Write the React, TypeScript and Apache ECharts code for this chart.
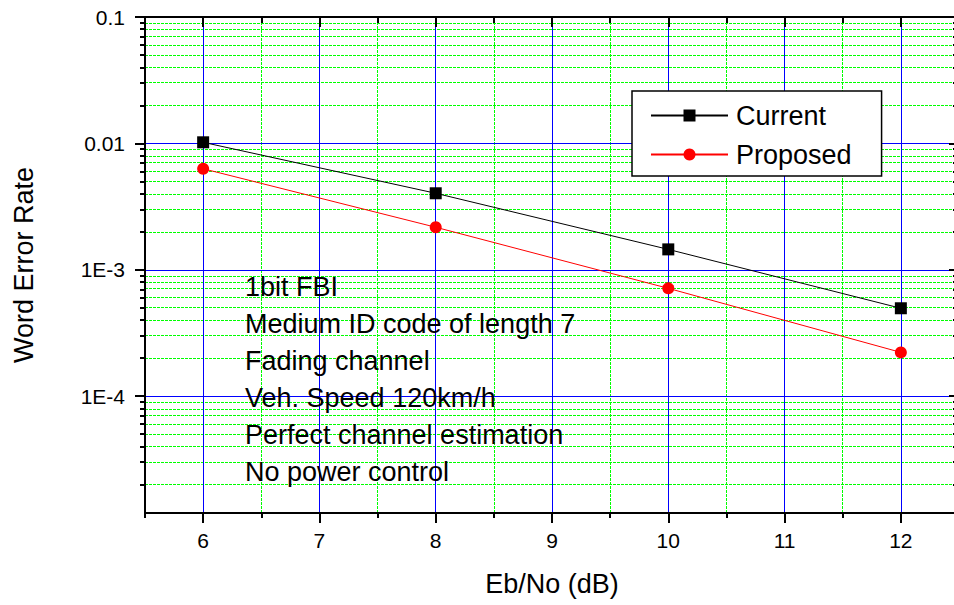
import React, { useEffect, useRef } from 'react';
import * as echarts from 'echarts';

const ebNo = [6, 8, 10, 12];
const currentWER = [0.0102, 0.00403, 0.00145, 0.000496];
const proposedWER = [0.0063, 0.00217, 0.000713, 0.000222];
const seriesNames = ['Current', 'Proposed'];

const xMajorTicks = [6, 7, 8, 9, 10, 11, 12];
const xMinorTicks = [5.5, 6.5, 7.5, 8.5, 9.5, 10.5, 11.5, 12.5];
const yMajorTicks = [1e-4, 1e-3, 1e-2, 1e-1];
const yMajorLabels = ['1E-4', '1E-3', '0.01', '0.1'];
const yMinorTicks = [
  2e-5, 3e-5, 4e-5, 5e-5, 6e-5, 7e-5, 8e-5, 9e-5,
  2e-4, 3e-4, 4e-4, 5e-4, 6e-4, 7e-4, 8e-4, 9e-4,
  2e-3, 3e-3, 4e-3, 5e-3, 6e-3, 7e-3, 8e-3, 9e-3,
  2e-2, 3e-2, 4e-2, 5e-2, 6e-2, 7e-2, 8e-2, 9e-2,
];
const notes = [
  '1bit FBI',
  'Medium ID code of length 7',
  'Fading channel',
  'Veh. Speed 120km/h',
  'Perfect channel estimation',
  'No power control',
];
const xTitle = 'Eb/No (dB)';
const yTitle = 'Word Error Rate';
const X_MIN = 5.5;
const X_MAX = 12.5;
const Y_MIN = 1.19e-5;
const Y_MAX = 0.1;

const FONT = '"Liberation Sans", Arial, Helvetica, sans-serif';
const BLUE = '#0000ff';
const GREEN = '#00ff00';

export default function App() {
  const ref = useRef<HTMLDivElement>(null);

  useEffect(() => {
    if (!ref.current) return;
    const chart = echarts.init(ref.current, undefined, { renderer: 'svg' });
    const lg = (v: number) => Math.log10(v);
    const yMin = lg(Y_MIN);
    const yMax = lg(Y_MAX);
    const yMajor = yMajorTicks.map(lg);
    const yMinor = yMinorTicks.map(lg);
    const labelFor = (v: number) => {
      let best = 0;
      let d = Infinity;
      yMajor.forEach((m, i) => {
        if (Math.abs(m - v) < d) {
          d = Math.abs(m - v);
          best = i;
        }
      });
      return yMajorLabels[best];
    };

    const baseX = {
      type: 'value',
      min: X_MIN,
      max: X_MAX,
      axisLine: { show: false, onZero: false },
      axisLabel: { show: false },
      splitLine: { show: false },
    };
    const baseY = {
      type: 'value',
      min: yMin,
      max: yMax,
      axisLine: { show: false, onZero: false },
      axisLabel: { show: false },
      splitLine: { show: false },
    };

    const gridSeries = (name: string, xs: number[], ys: number[], color: string, type: any, z: number) => ({
      name,
      type: 'line',
      xAxisIndex: 0,
      yAxisIndex: 0,
      data: [],
      silent: true,
      z,
      markLine: {
        silent: true,
        symbol: ['none', 'none'],
        label: { show: false },
        lineStyle: { color, width: 1, type },
        emphasis: { disabled: true },
        data: [
          ...xs.filter((v) => v > X_MIN && v < X_MAX).map((v) => ({ xAxis: v })),
          ...ys.filter((v) => v > yMin && v < yMax).map((v) => ({ yAxis: v })),
        ],
      },
    });

    const option: any = {
      animation: false,
      backgroundColor: '#ffffff',
      textStyle: { fontFamily: FONT },
      grid: {
        left: 145,
        top: 17,
        right: -5,
        bottom: 92,
        containLabel: false,
        outerBoundsMode: 'none',
      },
      legend: {
        orient: 'vertical',
        left: 632,
        top: 91,
        padding: [11, 30, 8, 18],
        itemGap: 12,
        itemWidth: 77,
        itemHeight: 15,
        backgroundColor: '#ffffff',
        borderColor: '#000000',
        borderWidth: 1.5,
        borderRadius: 0,
        textStyle: { fontSize: 27, color: '#000', fontFamily: FONT, padding: [0, 0, 0, 3] },
        data: seriesNames,
        z: 20,
      },
      xAxis: [
        {
          ...baseX,
          position: 'bottom',
          name: xTitle,
          nameLocation: 'middle',
          nameGap: 57,
          nameTextStyle: { fontSize: 27, color: '#000', fontFamily: FONT },
          axisLine: { show: true, onZero: false, lineStyle: { color: '#000', width: 2 } },
          axisTick: {
            show: true,
            inside: false,
            length: 10,
            lineStyle: { color: '#000', width: 2 },
            customValues: xMajorTicks,
          },
          axisLabel: {
            show: true,
            margin: 17,
            fontSize: 21,
            color: '#000',
            fontFamily: FONT,
            customValues: xMajorTicks,
          },
          z: 6,
        },
        {
          ...baseX,
          position: 'bottom',
          axisTick: {
            show: true,
            inside: false,
            length: 5,
            lineStyle: { color: '#000', width: 2 },
            customValues: xMinorTicks,
          },
          z: 6,
        },
        {
          ...baseX,
          position: 'top',
          axisLine: { show: true, onZero: false, lineStyle: { color: '#000', width: 2 } },
          axisTick: {
            show: true,
            inside: true,
            length: 10,
            lineStyle: { color: '#000', width: 2 },
            customValues: xMajorTicks,
          },
          z: 6,
        },
        {
          ...baseX,
          position: 'top',
          axisTick: {
            show: true,
            inside: true,
            length: 6,
            lineStyle: { color: '#000', width: 2 },
            customValues: xMinorTicks,
          },
          z: 6,
        },
      ],
      yAxis: [
        {
          ...baseY,
          position: 'left',
          name: yTitle,
          nameLocation: 'middle',
          nameGap: 108,
          nameRotate: 90,
          nameTextStyle: { fontSize: 27, color: '#000', fontFamily: FONT },
          axisLine: { show: true, onZero: false, lineStyle: { color: '#000', width: 2 } },
          axisTick: {
            show: true,
            inside: false,
            length: 10,
            lineStyle: { color: '#000', width: 2 },
            customValues: yMajor,
          },
          axisLabel: {
            show: true,
            margin: 20,
            fontSize: 21,
            color: '#000',
            fontFamily: FONT,
            customValues: yMajor,
            formatter: (v: number) => labelFor(v),
          },
          z: 6,
        },
        {
          ...baseY,
          position: 'left',
          axisTick: {
            show: true,
            inside: false,
            length: 5,
            lineStyle: { color: '#000', width: 2 },
            customValues: yMinor,
          },
          z: 6,
        },
        {
          ...baseY,
          position: 'right',
          axisLine: { show: true, onZero: false, lineStyle: { color: '#000', width: 2 } },
          axisTick: {
            show: true,
            inside: true,
            length: 10,
            lineStyle: { color: '#000', width: 2 },
            customValues: yMajor,
          },
          z: 6,
        },
        {
          ...baseY,
          position: 'right',
          axisTick: {
            show: true,
            inside: true,
            length: 6,
            lineStyle: { color: '#000', width: 2 },
            customValues: yMinor,
          },
          z: 6,
        },
      ],
      series: [
        gridSeries('minorGrid', xMinorTicks, yMinor, GREEN, [3, 1], 1),
        gridSeries('majorGrid', xMajorTicks, yMajor, BLUE, 'solid', 2),
        {
          name: seriesNames[0],
          type: 'line',
          xAxisIndex: 0,
          yAxisIndex: 0,
          data: ebNo.map((x, i) => [x, lg(currentWER[i])]),
          symbol: 'rect',
          symbolSize: 12,
          itemStyle: { color: '#000000' },
          lineStyle: { color: '#000000', width: 1 },
          z: 5,
        },
        {
          name: seriesNames[1],
          type: 'line',
          xAxisIndex: 0,
          yAxisIndex: 0,
          data: ebNo.map((x, i) => [x, lg(proposedWER[i])]),
          symbol: 'circle',
          symbolSize: 12,
          itemStyle: { color: '#ff0000' },
          lineStyle: { color: '#ff0000', width: 1 },
          z: 5,
        },
      ],
      graphic: [
        {
          type: 'text',
          left: 245,
          top: 268,
          z: 10,
          style: {
            text: notes.join('\n'),
            font: `27px ${FONT}`,
            fill: '#000',
            lineHeight: 37,
          },
        },
      ],
    };

    chart.setOption(option);
    return () => chart.dispose();
  }, []);

  return (
    <div
      ref={ref}
      style={{ position: 'fixed', left: 0, top: 0, width: 954, height: 605, background: '#fff' }}
    />
  );
}
